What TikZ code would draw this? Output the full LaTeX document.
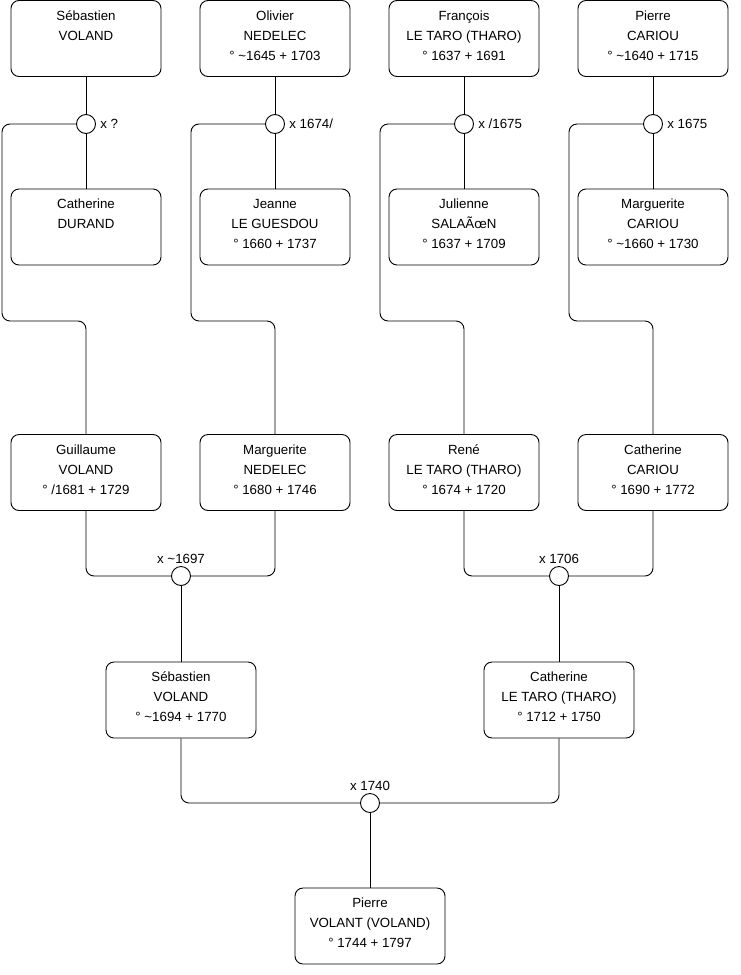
\documentclass[tikz,border=0pt]{standalone}
\usepackage{fontspec}
\setmainfont{Liberation Sans}
\usetikzlibrary{calc}

\begin{document}
\begin{tikzpicture}[x=1pt, y=-1pt, line width=0.9pt,
    person/.style={draw, rounded corners=8pt, minimum width=150pt, minimum height=76pt,
      align=center, inner sep=0pt, text depth=6.5pt, font=\fontsize{13.3}{20}\selectfont},
    wed/.style={draw, circle, fill=white, minimum size=19pt, inner sep=0pt},
    date/.style={inner sep=2pt, font=\fontsize{13.3}{15}\selectfont},
    link/.style={rounded corners=8pt}]
  \useasboundingbox (0,0) rectangle (740,975);

  % arriere-grands-parents
  \node[person] (sebV)  at (86,38.5)  {Sébastien\\VOLAND\\\strut};
  \node[person] (oliN)  at (275,38.5) {Olivier\\NEDELEC\\° \textasciitilde1645 + 1703};
  \node[person] (fraT)  at (464,38.5) {François\\LE TARO (THARO)\\° 1637 + 1691};
  \node[person] (pieC)  at (653,38.5) {Pierre\\CARIOU\\° \textasciitilde1640 + 1715};

  \node[wed] (mA) at (86,124)  {};
  \node[wed] (mB) at (275,124) {};
  \node[wed] (mC) at (464,124) {};
  \node[wed] (mD) at (653,124) {};
  \node[date, right, xshift=2pt] (dA) at (mA.east) {x ?};
  \node[date, right, xshift=2pt] (dB) at (mB.east) {x 1674/};
  \node[date, right, xshift=2pt] (dC) at (mC.east) {x /1675};
  \node[date, right, xshift=2pt] (dD) at (mD.east) {x 1675};

  \node[person] (catD)  at (86,227)  {Catherine\\DURAND\\\strut};
  \node[person] (jeaG)  at (275,227) {Jeanne\\LE GUESDOU\\° 1660 + 1737};
  \node[person] (julS)  at (464,227) {Julienne\\SALAÃœN\\° 1637 + 1709};
  \node[person] (marC)  at (653,227) {Marguerite\\CARIOU\\° \textasciitilde1660 + 1730};

  % grands-parents
  \node[person] (guiV)  at (86,472.5)  {Guillaume\\VOLAND\\° /1681 + 1729};
  \node[person] (marN)  at (275,472.5) {Marguerite\\NEDELEC\\° 1680 + 1746};
  \node[person] (renT)  at (464,472.5) {René\\LE TARO (THARO)\\° 1674 + 1720};
  \node[person] (catC)  at (653,472.5) {Catherine\\CARIOU\\° 1690 + 1772};

  \node[wed] (mE) at (181,576) {};
  \node[wed] (mF) at (559,576) {};
  \node[date, above] (dE) at (mE.north) {x \textasciitilde1697};
  \node[date, above] (dF) at (mF.north) {x 1706};

  % parents
  \node[person] (sebV2) at (181,700) {Sébastien\\VOLAND\\° \textasciitilde1694 + 1770};
  \node[person] (catT)  at (559,700) {Catherine\\LE TARO (THARO)\\° 1712 + 1750};

  \node[wed] (mG) at (370,803) {};
  \node[date, above] (dG) at (mG.north) {x 1740};

  \node[person] (pieV)  at (370,926) {Pierre\\VOLANT (VOLAND)\\° 1744 + 1797};

  \coordinate (kA) at (2,321);
  \coordinate (kB) at (191,321);
  \coordinate (kC) at (380,321);
  \coordinate (kD) at (569,321);

  \draw (sebV) -- (mA) -- (catD);
  \draw (oliN) -- (mB) -- (jeaG);
  \draw (fraT) -- (mC) -- (julS);
  \draw (pieC) -- (mD) -- (marC);

  \draw[link] (mA.west) -| (kA) -- (kA -| guiV.north) -- (guiV.north);
  \draw[link] (mB.west) -| (kB) -- (kB -| marN.north) -- (marN.north);
  \draw[link] (mC.west) -| (kC) -- (kC -| renT.north) -- (renT.north);
  \draw[link] (mD.west) -| (kD) -- (kD -| catC.north) -- (catC.north);

  \draw[link] (guiV.south) |- (mE.west);
  \draw[link] (marN.south) |- (mE.east);
  \draw[link] (renT.south) |- (mF.west);
  \draw[link] (catC.south) |- (mF.east);
  \draw (mE) -- (sebV2);
  \draw (mF) -- (catT);

  \draw[link] (sebV2.south) |- (mG.west);
  \draw[link] (catT.south) |- (mG.east);
  \draw (mG) -- (pieV);
\end{tikzpicture}
\end{document}
